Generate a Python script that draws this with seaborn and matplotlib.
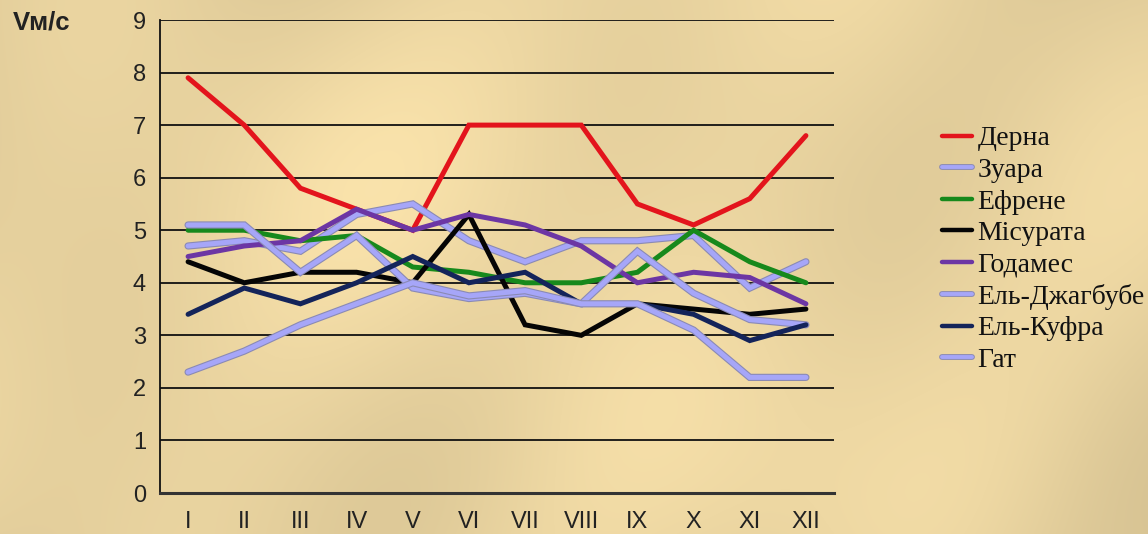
import numpy as np
import pandas as pd
import matplotlib
matplotlib.use("Agg")
import matplotlib.pyplot as plt
import matplotlib.patheffects as pe
from matplotlib.lines import Line2D
import seaborn as sns

months = ["I", "II", "III", "IV", "V", "VI", "VII", "VIII", "IX", "X", "XI", "XII"]
stations = ["Дерна", "Зуара", "Ефрене", "Місурата", "Годамес",
            "Ель-Джагбубе", "Ель-Куфра", "Гат"]

derna = [7.9, 7.0, 5.8, 5.4, 5.0, 7.0, 7.0, 7.0, 5.5, 5.1, 5.6, 6.8]
zuara = [4.7, 4.8, 4.6, 5.3, 5.5, 4.8, 4.4, 4.8, 4.8, 4.9, 3.9, 4.4]
efrene = [5.0, 5.0, 4.8, 4.9, 4.3, 4.2, 4.0, 4.0, 4.2, 5.0, 4.4, 4.0]
misurata = [4.4, 4.0, 4.2, 4.2, 4.0, 5.3, 3.2, 3.0, 3.6, 3.5, 3.4, 3.5]
godames = [4.5, 4.7, 4.8, 5.4, 5.0, 5.3, 5.1, 4.7, 4.0, 4.2, 4.1, 3.6]
jaghbub = [5.1, 5.1, 4.2, 4.9, 3.9, 3.7, 3.8, 3.6, 4.6, 3.8, 3.3, 3.2]
kufra = [3.4, 3.9, 3.6, 4.0, 4.5, 4.0, 4.2, 3.6, 3.6, 3.4, 2.9, 3.2]
ghat = [2.3, 2.7, 3.2, 3.6, 4.0, 3.75, 3.85, 3.6, 3.6, 3.1, 2.2, 2.2]

series = [derna, zuara, efrene, misurata, godames, jaghbub, kufra, ghat]

LIGHT = "#a6a6f8"
palette = {
    "Дерна": "#e3141c",
    "Зуара": LIGHT,
    "Ефрене": "#17891c",
    "Місурата": "#050505",
    "Годамес": "#6c36a4",
    "Ель-Джагбубе": LIGHT,
    "Ель-Куфра": "#14245a",
    "Гат": LIGHT,
}

rows = []
for name, vals in zip(stations, series):
    for i, v in enumerate(vals):
        rows.append({"station": name, "month": i, "v": v})
df = pd.DataFrame(rows)

sns.set_theme(style="white")
plt.rcParams["font.family"] = ["Liberation Sans", "DejaVu Sans"]

BG = "#eed8a3"
W, H = 1148, 534
fig = plt.figure(figsize=(W / 100, H / 100), dpi=100, facecolor=BG)

# soft parchment shading (decorative background only)
yy, xx = np.mgrid[0:H, 0:W]
u = xx / W
v = yy / H
shade = (0.035 * np.cos(2 * np.pi * (u * 1.3 + 0.1)) * np.cos(2 * np.pi * (v * 0.9 + 0.2))
         + 0.02 * np.sin(2 * np.pi * (u * 3.1 + v * 0.7))
         - 0.05 * ((u - 0.5) ** 2 * 2.5 + (v - 0.5) ** 2 * 1.2))
base = np.array([0xee, 0xd8, 0xa3]) / 255.0
img = np.clip(base[None, None, :] * (1 + shade[:, :, None]), 0, 1)
bg_ax = fig.add_axes([0, 0, 1, 1], zorder=-10)
bg_ax.imshow(img, aspect="auto", interpolation="bilinear")
bg_ax.set_axis_off()

ax = fig.add_axes([160 / W, 1 - 493 / H, (834 - 160) / W, (493 - 20) / H], zorder=1)
ax.set_facecolor("none")

sns.lineplot(data=df, x="month", y="v", hue="station", hue_order=stations,
             palette=palette, linewidth=3.6, ax=ax, legend=False, sort=False)

outline = [pe.Stroke(linewidth=5.2, foreground="#8a8ab4"), pe.Normal()]
for line, name in zip(ax.get_lines(), stations):
    if palette[name] == LIGHT:
        line.set_path_effects(outline)
    line.set_solid_joinstyle("miter")
    line.set_zorder(3)

ax.set_xlim(-0.5, 11.5)
ax.set_ylim(0, 9)
ax.set_yticks(range(0, 10))
ax.set_yticklabels([str(i) for i in range(0, 10)])
ax.set_xticks(range(12))
ax.set_xticklabels(months)
ax.set_xticks(np.arange(-0.5, 12.0, 1.0), minor=True)
ax.tick_params(axis="x", which="major", length=0, pad=13, labelsize=17, labelcolor="#222222")
ax.tick_params(axis="x", which="minor", direction="out", length=7, width=1.4, color="#111111")
ax.tick_params(axis="y", which="major", direction="out", length=8, width=1.2,
               color="#111111", pad=2, labelsize=17, labelcolor="#222222")
ax.set_xlabel("")
ax.set_ylabel("")

for y in range(1, 10):
    ax.axhline(y, color="#111111", linewidth=1.3, zorder=1)

for s in ["top", "right"]:
    ax.spines[s].set_visible(False)
ax.spines["left"].set_color("#111111")
ax.spines["left"].set_linewidth(1.3)
ax.spines["bottom"].set_color("#333333")
ax.spines["bottom"].set_linewidth(2.2)

fig.text(13 / W, 1 - 23 / H, "Vм/с", fontsize=18.5, fontweight="bold",
         color="#222222", va="center", ha="left")

handles = []
for name in stations:
    if palette[name] == LIGHT:
        h = Line2D([], [], color=LIGHT, linewidth=2.8,
                   path_effects=[pe.Stroke(linewidth=4.2, foreground="#8a8ab4"), pe.Normal()])
    else:
        h = Line2D([], [], color=palette[name], linewidth=3.2)
    handles.append(h)
leg = fig.legend(handles, stations, loc="upper left",
                 bbox_to_anchor=(942 / W, 1 - 126 / H),
                 frameon=False, handlelength=1.07, handletextpad=0.2,
                 labelspacing=0.22, borderpad=0, borderaxespad=0,
                 prop={"family": "Liberation Serif", "size": 20})
for t in leg.get_texts():
    t.set_color("#111111")

fig.savefig("out.png", dpi=100)
